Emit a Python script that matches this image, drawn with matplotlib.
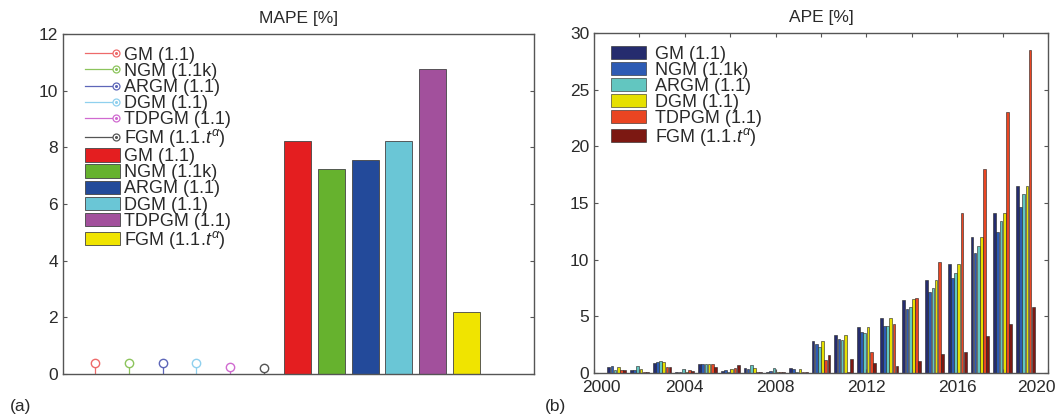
import numpy as np
import matplotlib
matplotlib.use('Agg')
import matplotlib.pyplot as plt
from matplotlib.lines import Line2D
from matplotlib.patches import Patch
from matplotlib.legend_handler import HandlerLine2D
from matplotlib.transforms import ScaledTranslation

plt.rcParams['font.family'] = ['Liberation Sans', 'DejaVu Sans']
plt.rcParams['mathtext.fontset'] = 'custom'
plt.rcParams['mathtext.rm'] = 'Liberation Sans'
plt.rcParams['mathtext.it'] = 'Liberation Sans:italic'

# --- data ---
models = ['GM (1.1)', 'NGM (1.1k)', 'ARGM (1.1)', 'DGM (1.1)', 'TDPGM (1.1)',
          'FGM (1.1.$t^{\\alpha}$)']

# panel (a): stem values and MAPE bars
stem_vals = [0.39, 0.39, 0.39, 0.39, 0.25, 0.22]
mape_vals = [8.21, 7.25, 7.55, 8.21, 10.77, 2.20]

# panel (b): APE per year
years = list(range(2001, 2020))
ape_gm = [0.57, 0.26, 0.90, 0.05, 0.77, 0.22, 0.44, 0.11, 0.44, 2.79, 3.31, 4.08,
          4.87, 6.48, 8.21, 9.59, 12.02, 14.10, 16.54]
ape_ngm = [0.59, 0.26, 0.99, 0.05, 0.76, 0.23, 0.38, 0.15, 0.33, 2.55, 3.02, 3.64,
           4.16, 5.66, 7.18, 8.39, 10.62, 12.46, 14.66]
ape_argm = [0.25, 0.59, 1.03, 0.38, 0.76, 0.06, 0.68, 0.44, 0.06, 2.29, 2.87, 3.49,
            4.16, 5.81, 7.51, 8.80, 11.23, 13.40, 15.75]
ape_dgm = [0.53, 0.32, 0.94, 0.08, 0.76, 0.36, 0.44, 0.12, 0.37, 2.79, 3.31, 4.08,
           4.81, 6.51, 8.21, 9.59, 12.02, 14.10, 16.54]
ape_tdpgm = [0.27, 0.06, 0.55, 0.30, 0.76, 0.44, 0.06, 0.06, 0.09, 1.17, 0.05, 1.85,
             4.31, 6.66, 9.77, 14.13, 18.00, 23.07, 28.50]
ape_fgm = [0.25, 0.06, 0.53, 0.18, 0.56, 0.67, 0.06, 0.06, 0.06, 1.61, 1.23, 0.91,
           0.59, 1.09, 1.64, 1.85, 3.23, 4.34, 5.78]

# --- colours ---
stem_colors = ['#ee6a6a', '#8cc45c', '#5d66b8', '#8fd0ee', '#d06ad0', '#555555']
bar_colors_a = ['#e41e20', '#66b22e', '#234a9a', '#6ac6d6', '#a2509c', '#f0e400']
bar_colors_b = ['#252c6e', '#2d5bb4', '#62c6c0', '#e6e000', '#ea4522', '#7c1812']
AXIS_COLOR = '#555555'
TEXT_COLOR = '#2a2a2a'


class StemHandler(HandlerLine2D):
    # line with a dotted circle at the right end, like MATLAB's stem legend
    def create_artists(self, legend, orig_handle, xdescent, ydescent, width,
                       height, fontsize, trans):
        c = orig_handle.get_color()
        y = height / 2 - ydescent
        xe = width - xdescent - 3
        line = Line2D([-xdescent, xe - 3], [y, y], color=c, lw=0.9, transform=trans)
        ring = Line2D([xe], [y], marker='o', ms=5, mfc='white', mec=c, mew=0.9,
                      ls='none', transform=trans)
        dot = Line2D([xe], [y], marker='o', ms=1.2, mfc=c, mec=c, ls='none',
                     transform=trans)
        return [line, ring, dot]


def style_axes(ax):
    for s in ax.spines.values():
        s.set_color(AXIS_COLOR)
        s.set_linewidth(1.0)
    ax.tick_params(direction='in', length=3, width=0.8, colors=AXIS_COLOR,
                   labelcolor=TEXT_COLOR, labelsize=12.5,
                   top=True, right=True)


fig = plt.figure(figsize=(10.62, 4.19), dpi=100)

# ---------------- panel (a) ----------------
ax1 = fig.add_axes([63 / 1062, 45 / 419, 471 / 1062, 340 / 419])
handles = []
for i, (v, c) in enumerate(zip(stem_vals, stem_colors)):
    x = i + 1
    ax1.vlines(x, 0, v, color=c, lw=0.9)
    h, = ax1.plot([x], [v], marker='o', ms=6, mfc='white', mec=c, mew=1.0,
                  color=c, ls='none', label=models[i])
    handles.append(h)
for i, (v, c) in enumerate(zip(mape_vals, bar_colors_a)):
    ax1.bar(7 + i, v, width=0.8, color=c, edgecolor='#444444', linewidth=0.6)
    handles.append(Patch(facecolor=c, edgecolor='#444444', linewidth=0.6,
                         label=models[i]))

ax1.set_xlim(0.05, 14)
ax1.set_ylim(0, 12)
ax1.set_yticks(range(0, 13, 2))
ax1.set_xticks([])
style_axes(ax1)
ax1.set_title('MAPE [%]', fontsize=12.5, color=TEXT_COLOR, pad=8)
ax1.legend(handles=handles, handler_map={Line2D: StemHandler()},
           loc='upper left', bbox_to_anchor=(0.02, 1.0), frameon=False,
           fontsize=13, labelspacing=-0.05, handlelength=1.95, handleheight=0.75,
           handletextpad=0.2, borderaxespad=0.3, labelcolor=TEXT_COLOR)

# ---------------- panel (b) ----------------
ax2 = fig.add_axes([594 / 1062, 46 / 419, 454 / 1062, 340 / 419])
series_b = [ape_gm, ape_ngm, ape_argm, ape_dgm, ape_tdpgm, ape_fgm]
yrs = np.array(years)
step = 0.14
for i, (vals, c) in enumerate(zip(series_b, bar_colors_b)):
    ax2.bar(yrs + (i - 2.5) * step, vals, width=0.12, color=c,
            edgecolor='#222222', linewidth=0.4, label=models[i])

ax2.set_xlim(2000, 2020)
ax2.set_ylim(0, 30)
ax2.set_yticks(range(0, 31, 5))
ax2.set_xticks(range(2000, 2021, 2))
ax2.set_xticklabels([str(y) if y % 4 == 0 else '' for y in range(2000, 2021, 2)])
style_axes(ax2)
ax2.tick_params(axis='x', pad=5)
# nudge the end labels inward as in the reference
xlabels = ax2.get_xticklabels()
xlabels[0].set_transform(xlabels[0].get_transform()
                         + ScaledTranslation(0.07, 0, fig.dpi_scale_trans))
xlabels[-1].set_transform(xlabels[-1].get_transform()
                          + ScaledTranslation(-0.12, 0, fig.dpi_scale_trans))
ax2.set_title('APE [%]', fontsize=12.5, color=TEXT_COLOR, pad=8)
ax2.legend(loc='upper left', bbox_to_anchor=(0.01, 1.0), frameon=False,
           fontsize=13, labelspacing=-0.05, handlelength=1.95, handleheight=0.75,
           handletextpad=0.45, borderaxespad=0.3, labelcolor=TEXT_COLOR)

fig.text(10 / 1062, 1 - 406 / 419, '(a)', fontsize=12.5, color=TEXT_COLOR,
         va='center', ha='left')
fig.text(545 / 1062, 1 - 406 / 419, '(b)', fontsize=12.5, color=TEXT_COLOR,
         va='center', ha='left')

fig.savefig('out.png', dpi=100)
